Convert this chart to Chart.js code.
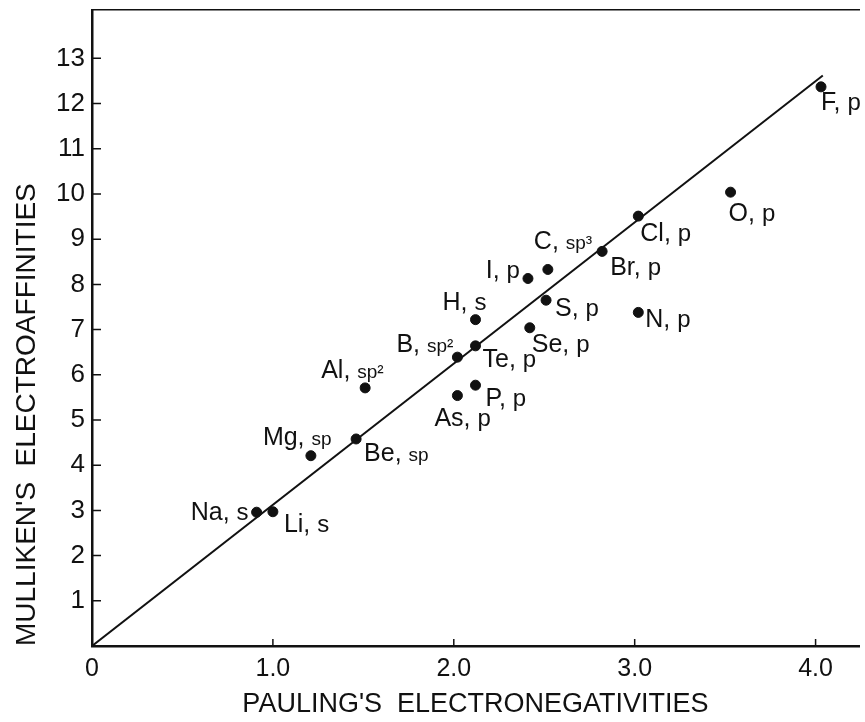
<!DOCTYPE html>
<html>
<head>
<meta charset="utf-8">
<title>Mulliken vs Pauling</title>
<script src="https://cdn.jsdelivr.net/npm/chart.js@4.4.1/dist/chart.umd.min.js"></script>
<style>
body { margin: 0; background: #fff; }
#wrap { width: 865px; height: 722px; }
</style>
</head>
<body>
<div id="wrap"><canvas id="chart"></canvas></div>
<script>
// values
var elements = ['Na','Li','Mg','Be','Al','B','As','H','Te','P','Se','I','C','S','Br','Cl','N','O','F'];
var orbitals = ['s','s','sp','sp','sp\u00b2','sp\u00b2','p','s','p','p','p','p','sp\u00b3','p','p','p','p','p','p'];
var pauling  = [0.91,1.0,1.21,1.46,1.51,2.02,2.02,2.12,2.12,2.12,2.42,2.41,2.52,2.51,2.82,3.02,3.02,3.53,4.03];
var mulliken = [2.96,2.97,4.21,4.58,5.71,6.39,5.54,7.22,6.64,5.77,7.04,8.13,8.33,7.65,8.73,9.51,7.38,10.04,12.37];

var lineX = [0, 4.04];
var lineY = [0, 12.62];

var xTicks = [0, 1, 2, 3, 4];
var xTickLabels = ['0', '1.0', '2.0', '3.0', '4.0'];
var yTicks = [0,1,2,3,4,5,6,7,8,9,10,11,12,13];
var yTickLabels = ['', '1','2','3','4','5','6','7','8','9','10','11','12','13'];

var FONT = "'Liberation Sans', Arial, sans-serif";

// where each label sits relative to its dot
var labelPos = {
  Na: {dx: -8, dy: 8, right: true},
  Li: {dx: 11, dy: 20},
  Mg: {dx: -48, dy: -11},
  Be: {dx: 8, dy: 22},
  Al: {dx: -44, dy: -10},
  B:  {dx: -4, dy: -5, right: true},
  As: {dx: -23, dy: 30},
  H:  {dx: -33, dy: -10},
  Te: {dx: 7, dy: 21},
  P:  {dx: 10, dy: 21},
  Se: {dx: 2, dy: 24},
  I:  {dx: -8, dy: -1, right: true},
  C:  {dx: -14, dy: -20},
  S:  {dx: 9, dy: 16},
  Br: {dx: 8, dy: 24},
  Cl: {dx: 2, dy: 25},
  N:  {dx: 7, dy: 15},
  O:  {dx: -2, dy: 29},
  F:  {dx: 0, dy: 23}
};

var points = [];
for (var i = 0; i < elements.length; i++) {
  points.push({x: pauling[i], y: mulliken[i]});
}
var linePts = [];
for (var j = 0; j < lineX.length; j++) {
  linePts.push({x: lineX[j], y: lineY[j]});
}

var pointLabels = {
  id: 'pointLabels',
  afterDatasetsDraw: function(chart) {
    var ctx = chart.ctx;
    var meta = chart.getDatasetMeta(1);
    ctx.save();
    ctx.fillStyle = '#111';
    ctx.textBaseline = 'alphabetic';
    ctx.textAlign = 'left';
    meta.data.forEach(function(el, k) {
      var name = elements[k] + ', ';
      var orb = orbitals[k];
      var pos = labelPos[elements[k]];
      var small = orb.indexOf('sp') === 0;
      var orbFont = (small ? '19px ' : '24px ') + FONT;
      ctx.font = '25px ' + FONT;
      var w1 = ctx.measureText(name).width;
      ctx.font = orbFont;
      var w2 = ctx.measureText(orb).width;
      var x = el.x + pos.dx;
      if (pos.right) x -= (w1 + w2);
      var y = el.y + pos.dy;
      ctx.font = '25px ' + FONT;
      ctx.fillText(name, x, y);
      ctx.font = orbFont;
      ctx.fillText(orb, x + w1, y);
    });
    ctx.restore();
  }
};

// tick marks point into the plot, as in the drawing
var innerTicks = {
  id: 'innerTicks',
  afterDraw: function(chart) {
    var ctx = chart.ctx;
    var xs = chart.scales.x, ys = chart.scales.y;
    ctx.save();
    ctx.strokeStyle = '#111';
    ctx.lineWidth = 1.5;
    ctx.beginPath();
    yTicks.forEach(function(v) {
      if (v === 0) return;
      var py = ys.getPixelForValue(v);
      ctx.moveTo(xs.left, py);
      ctx.lineTo(xs.left + 9, py);
    });
    xTicks.forEach(function(v) {
      if (v === 0) return;
      var px = xs.getPixelForValue(v);
      ctx.moveTo(px, ys.bottom);
      ctx.lineTo(px, ys.bottom - 7);
    });
    ctx.stroke();
    ctx.restore();
  }
};

function noPad(s) {
  s.paddingTop = 0; s.paddingBottom = 0;
  s.paddingLeft = 0; s.paddingRight = 0;
}

new Chart(document.getElementById('chart'), {
  type: 'scatter',
  data: {
    datasets: [
      {
        type: 'line',
        data: linePts,
        borderColor: '#111',
        borderWidth: 2,
        pointRadius: 0,
        fill: false
      },
      {
        data: points,
        backgroundColor: '#111',
        borderColor: '#111',
        pointRadius: 5,
        pointHoverRadius: 5
      }
    ]
  },
  options: {
    responsive: true,
    maintainAspectRatio: false,
    animation: false,
    layout: { padding: 0 },
    plugins: {
      legend: { display: false },
      tooltip: { enabled: false }
    },
    scales: {
      x: {
        type: 'linear',
        position: 'bottom',
        min: 0,
        max: 4.24,
        afterBuildTicks: function(s) { s.ticks = xTicks.map(function(v) { return {value: v}; }); },
        afterFit: function(s) { s.height = 76; noPad(s); },
        grid: { display: false, drawTicks: false },
        border: { display: true, color: '#111', width: 2.5 },
        ticks: {
          autoSkip: false,
          maxRotation: 0,
          padding: 8,
          color: '#111',
          font: { family: FONT, size: 25 },
          callback: function(v, idx) { return xTickLabels[idx]; }
        },
        title: {
          display: true,
          text: "PAULING'S  ELECTRONEGATIVITIES",
          color: '#111',
          font: { family: FONT, size: 27 },
          padding: { top: 0, bottom: 1 }
        }
      },
      x2: {
        type: 'linear',
        position: 'top',
        min: 0,
        max: 4.24,
        afterFit: function(s) { s.height = 10; noPad(s); },
        grid: { display: false, drawTicks: false },
        border: { display: true, color: '#111', width: 1.5 },
        ticks: { display: false }
      },
      y: {
        type: 'linear',
        min: 0,
        max: 14.07,
        afterBuildTicks: function(s) { s.ticks = yTicks.map(function(v) { return {value: v}; }); },
        afterFit: function(s) { s.width = 92; noPad(s); },
        grid: { display: false, drawTicks: false },
        border: { display: true, color: '#111', width: 2.5 },
        ticks: {
          autoSkip: false,
          padding: 7,
          color: '#111',
          font: { family: FONT, size: 26 },
          callback: function(v, idx) { return yTickLabels[idx]; }
        },
        title: {
          display: true,
          text: "MULLIKEN'S  ELECTROAFFINITIES",
          align: 'start',
          color: '#111',
          font: { family: FONT, size: 28 },
          padding: { top: 10, bottom: 0 }
        }
      }
    }
  },
  plugins: [pointLabels, innerTicks]
});
</script>
</body>
</html>
